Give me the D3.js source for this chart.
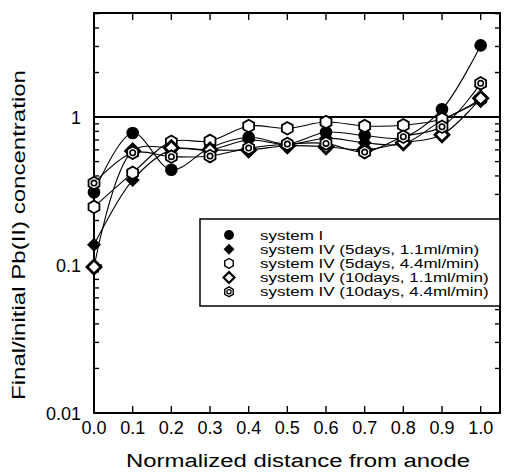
<!DOCTYPE html>
<html>
<head>
<meta charset="utf-8">
<script src="https://cdn.jsdelivr.net/npm/d3@7"></script>
<style>
  body { margin: 0; background: #fff; }
  text { font-family: "Liberation Sans", Arial, Helvetica, sans-serif; fill: #000; }
</style>
</head>
<body>
<div id="chart"></div>
<script>
(function (d3) {
    'use strict';

    // distances along the cell
    var distances = [0.0, 0.1, 0.2, 0.3, 0.4, 0.5, 0.6, 0.7, 0.8, 0.9, 1.0];

    // final / initial Pb(II) concentration per series
    var systemI      = [0.31, 0.78, 0.44, 0.62, 0.73, 0.66, 0.79, 0.75, 0.73, 1.13, 3.05];
    var sysIV5d11    = [0.137, 0.375, 0.60, 0.60, 0.70, 0.65, 0.72, 0.67, 0.66, 0.95, 1.28];
    var sysIV5d44    = [0.247, 0.42, 0.68, 0.69, 0.87, 0.84, 0.925, 0.87, 0.88, 0.97, 1.32];
    var sysIV10d11   = [0.097, 0.59, 0.62, 0.60, 0.60, 0.64, 0.63, 0.60, 0.67, 0.76, 1.34];
    var sysIV10d44   = [0.358, 0.574, 0.54, 0.545, 0.617, 0.657, 0.664, 0.58, 0.736, 0.86, 1.69];

    var seriesNames = [
        "system I",
        "system IV (5days, 1.1ml/min)",
        "system IV (5days, 4.4ml/min)",
        "system IV (10days, 1.1ml/min)",
        "system IV (10days, 4.4ml/min)"
    ];
    var seriesShapes = ["dot", "diamond", "hex", "odiamond", "dhex"];
    var seriesValues = [systemI, sysIV5d11, sysIV5d44, sysIV10d11, sysIV10d44];

    var xTicks = [0.0, 0.1, 0.2, 0.3, 0.4, 0.5, 0.6, 0.7, 0.8, 0.9, 1.0];
    var yLabels = [0.01, 0.1, 1];
    var refLine = 1;

    var svgWidth = 505, svgHeight = 472;
    var frame = { left: 94, right: 500, top: 13, bottom: 413 };

    var svg = d3.select("#chart").append("svg")
        .attr("width", svgWidth)
        .attr("height", svgHeight);

    var x = d3.scaleLinear().domain([0, 1.05]).range([frame.left, frame.right]);
    var y = d3.scaleLog().domain([0.01, 5.05]).range([frame.bottom, frame.top]);

    // stretch text horizontally like the scanned figure
    function stretch(sel, k) {
        sel.each(function () {
            var w = this.getComputedTextLength();
            d3.select(this).attr("textLength", w * k).attr("lengthAdjust", "spacingAndGlyphs");
        });
    }

    // ticks (inside the frame, all four sides)
    var minorY = [];
    [0.01, 0.1, 1].forEach(function (dec) {
        for (var m = 2; m <= 9; m++) {
            var v = dec * m;
            if (v < 5.05) minorY.push(v);
        }
    });
    var tickG = svg.append("g").attr("stroke", "#000").attr("stroke-width", 1.4);
    xTicks.slice(1).forEach(function (t) {
        tickG.append("line").attr("x1", x(t)).attr("x2", x(t)).attr("y1", frame.bottom).attr("y2", frame.bottom - 7);
        tickG.append("line").attr("x1", x(t)).attr("x2", x(t)).attr("y1", frame.top).attr("y2", frame.top + 7);
    });
    minorY.forEach(function (v) {
        tickG.append("line").attr("x1", frame.left).attr("x2", frame.left + 5).attr("y1", y(v)).attr("y2", y(v));
        tickG.append("line").attr("x1", frame.right).attr("x2", frame.right - 5).attr("y1", y(v)).attr("y2", y(v));
    });
    yLabels.slice(1).forEach(function (v) {
        tickG.append("line").attr("x1", frame.left).attr("x2", frame.left + 8).attr("y1", y(v)).attr("y2", y(v));
        tickG.append("line").attr("x1", frame.right).attr("x2", frame.right - 8).attr("y1", y(v)).attr("y2", y(v));
    });

    // reference line at 1
    svg.append("line")
        .attr("x1", frame.left).attr("x2", frame.right)
        .attr("y1", y(refLine)).attr("y2", y(refLine))
        .attr("stroke", "#000").attr("stroke-width", 2);

    // frame
    svg.append("rect")
        .attr("x", frame.left).attr("y", frame.top)
        .attr("width", frame.right - frame.left).attr("height", frame.bottom - frame.top)
        .attr("fill", "none").attr("stroke", "#000").attr("stroke-width", 2);

    // tick labels
    svg.append("g").selectAll("text")
        .data(xTicks).enter().append("text")
        .attr("x", function (d) { return x(d); })
        .attr("y", 434)
        .attr("text-anchor", "middle")
        .attr("font-size", 18)
        .text(function (d) { return d3.format(".1f")(d); });

    svg.append("g").selectAll("text")
        .data(yLabels).enter().append("text")
        .attr("x", 81)
        .attr("y", function (d) { return y(d) + 6.5; })
        .attr("text-anchor", "end")
        .attr("font-size", 18)
        .text(function (d) { return String(d); });

    // axis titles
    svg.append("text")
        .attr("x", 126).attr("y", 467)
        .attr("font-size", 18)
        .attr("textLength", 344)
        .attr("lengthAdjust", "spacingAndGlyphs")
        .text("Normalized distance from anode");

    svg.append("text")
        .attr("transform", "translate(25,400) rotate(-90)")
        .attr("font-size", 18.5)
        .attr("textLength", 330)
        .attr("lengthAdjust", "spacingAndGlyphs")
        .text("Final/initial Pb(II) concentration");

    // marker drawing
    function hexPath(r) {
        var pts = d3.range(6).map(function (i) {
            var a = Math.PI / 2 + i * Math.PI / 3;
            return [r * Math.cos(a), r * Math.sin(a)];
        });
        return "M" + pts.join("L") + "Z";
    }
    function diamondPath(r) {
        return "M0," + (-r) + "L" + r + ",0L0," + r + "L" + (-r) + ",0Z";
    }
    function drawMarker(g, shape, s) {
        if (shape === "dot") {
            g.append("circle").attr("r", 6.3 * s).attr("fill", "#000");
        } else if (shape === "diamond") {
            g.append("path").attr("d", diamondPath(7 * s)).attr("fill", "#000");
        } else if (shape === "hex") {
            g.append("path").attr("d", hexPath(6.3 * s)).attr("fill", "#fff")
                .attr("stroke", "#000").attr("stroke-width", 1.8 * s);
        } else if (shape === "odiamond") {
            g.append("path").attr("d", diamondPath(7 * s)).attr("fill", "#fff")
                .attr("stroke", "#000").attr("stroke-width", 2.8 * s);
        } else if (shape === "dhex") {
            g.append("path").attr("d", hexPath(6.3 * s)).attr("fill", "#fff")
                .attr("stroke", "#000").attr("stroke-width", 1.8 * s);
            g.append("circle").attr("r", 2.7 * s).attr("fill", "#fff")
                .attr("stroke", "#000").attr("stroke-width", 1.6 * s);
        }
    }

    // smooth lines
    var line = d3.line()
        .x(function (d) { return x(d[0]); })
        .y(function (d) { return y(d[1]); })
        .curve(d3.curveCatmullRom.alpha(0.5));

    var plot = svg.append("g");
    seriesValues.forEach(function (vals) {
        plot.append("path")
            .datum(distances.map(function (dd, i) { return [dd, vals[i]]; }))
            .attr("d", line)
            .attr("fill", "none")
            .attr("stroke", "#000")
            .attr("stroke-width", 1.1);
    });
    seriesValues.forEach(function (vals, si) {
        distances.forEach(function (dd, i) {
            var g = plot.append("g").attr("transform", "translate(" + x(dd) + "," + y(vals[i]) + ")");
            drawMarker(g, seriesShapes[si], 1);
        });
    });

    // legend
    var legend = svg.append("g");
    legend.append("rect")
        .attr("x", 200).attr("y", 219)
        .attr("width", frame.right - 200).attr("height", 87)
        .attr("fill", "#fff").attr("stroke", "#000").attr("stroke-width", 1.5);
    seriesNames.forEach(function (name, i) {
        var cy = 235 + i * 14.2;
        var g = legend.append("g").attr("transform", "translate(229," + cy + ")");
        drawMarker(g, seriesShapes[i], 0.78);
        legend.append("text")
            .attr("x", 260).attr("y", cy + 4.5)
            .attr("font-size", 12.5)
            .text(name)
            .call(stretch, 1.36);
    });
})(window.d3);
</script>
</body>
</html>
